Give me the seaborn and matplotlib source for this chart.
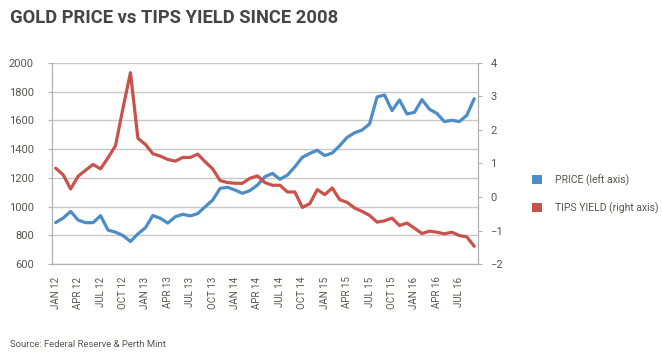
import numpy as np
import pandas as pd
import matplotlib.pyplot as plt
import seaborn as sns
from matplotlib.patches import Patch

# Monthly data, Jan 2012 - Sep 2016
months = pd.date_range("2012-01-01", periods=57, freq="MS")

gold_price = [889, 920, 966, 906, 888, 888, 937, 836, 822, 798, 757, 810,
              852, 938, 918, 885, 929, 946, 935, 951, 999, 1045, 1127, 1134,
              1115, 1092, 1112, 1150, 1208, 1231, 1190, 1219, 1277, 1343, 1370, 1392,
              1355, 1373, 1424, 1482, 1514, 1533, 1576, 1763, 1777, 1668, 1742, 1645,
              1656, 1745, 1678, 1649, 1592, 1601, 1592, 1635, 1751]

tips_yield = [0.86, 0.66, 0.24, 0.62, 0.80, 0.97, 0.84, 1.17, 1.53, 2.65, 3.71, 1.75,
              1.57, 1.29, 1.22, 1.12, 1.07, 1.18, 1.18, 1.28, 1.05, 0.84, 0.49, 0.43,
              0.41, 0.41, 0.56, 0.63, 0.43, 0.35, 0.35, 0.15, 0.15, -0.31, -0.20, 0.22,
              0.07, 0.27, -0.08, -0.16, -0.33, -0.43, -0.55, -0.75, -0.71, -0.63, -0.85, -0.78,
              -0.93, -1.09, -1.02, -1.05, -1.10, -1.05, -1.15, -1.19, -1.47]

tick_labels = [m.strftime("%b %y").upper() for m in months[::3]]

BLUE = "#4C8DC9"
RED = "#C9524B"
TEXT = "#5a5550"

df = pd.DataFrame({"idx": np.arange(len(months)), "price": gold_price, "tips": tips_yield})

sns.set_style("white")
plt.rcParams["font.family"] = ["Roboto", "DejaVu Sans"]

fig = plt.figure(figsize=(6.62, 3.59), dpi=100)
ax = fig.add_axes([0.0785, 0.2646, 0.6435, 0.56])
ax2 = ax.twinx()

sns.lineplot(data=df, x="idx", y="price", ax=ax, color=BLUE, linewidth=2.3)
sns.lineplot(data=df, x="idx", y="tips", ax=ax2, color=RED, linewidth=2.3)

ax.set_ylim(600, 2000)
ax.set_yticks(range(600, 2001, 200))
ax2.set_ylim(-2, 4)
ax2.set_yticks(range(-2, 5))
ax.set_xlim(-0.5, len(months) - 0.5)

# labels at quarter months, ticks on category boundaries
ax.set_xticks(np.arange(0, len(months), 3))
ax.set_xticklabels(tick_labels, rotation=90, fontsize=7, color=TEXT)
ax.set_xticks(np.arange(-0.5, len(months), 3), minor=True)
ax.tick_params(axis="x", which="major", length=0, pad=9)
ax.tick_params(axis="x", which="minor", length=4, color="#b0b0b0", width=0.8, direction="out")

ax.tick_params(axis="y", labelsize=8, colors=TEXT, length=3, width=0.8, direction="out", pad=10)
ax.tick_params(axis="y", color="#b0b0b0")
ax2.tick_params(axis="y", labelsize=8, colors=TEXT, length=3, width=0.8, direction="out", pad=6)
ax2.tick_params(axis="y", color="#b0b0b0")

ax.yaxis.grid(True, color="#c8c8c8", linewidth=1)
ax.set_axisbelow(True)
ax.set_xlabel("")
ax.set_ylabel("")
ax2.set_ylabel("")

for a in (ax, ax2):
    a.spines["top"].set_visible(False)
    for s in ("left", "right", "bottom"):
        a.spines[s].set_color("#b0b0b0")

fig.text(0.015, 0.95, "GOLD PRICE vs TIPS YIELD SINCE 2008", fontsize=13.2,
         fontweight="bold", color="#454545", va="center", ha="left")
fig.text(0.015, 0.04, "Source: Federal Reserve & Perth Mint", fontsize=6.8,
         color=TEXT, va="center", ha="left")

# legend
handles = [Patch(facecolor=BLUE, edgecolor="none", label="PRICE (left axis)"),
           Patch(facecolor=RED, edgecolor="none", label="TIPS YIELD (right axis)")]
fig.legend(handles=handles, loc="center left", bbox_to_anchor=(0.79, 0.46),
           frameon=False, fontsize=7.5, handlelength=0.9, handleheight=0.9,
           labelspacing=1.6, handletextpad=1.3, labelcolor=TEXT)

fig.savefig("out.png", dpi=100)
